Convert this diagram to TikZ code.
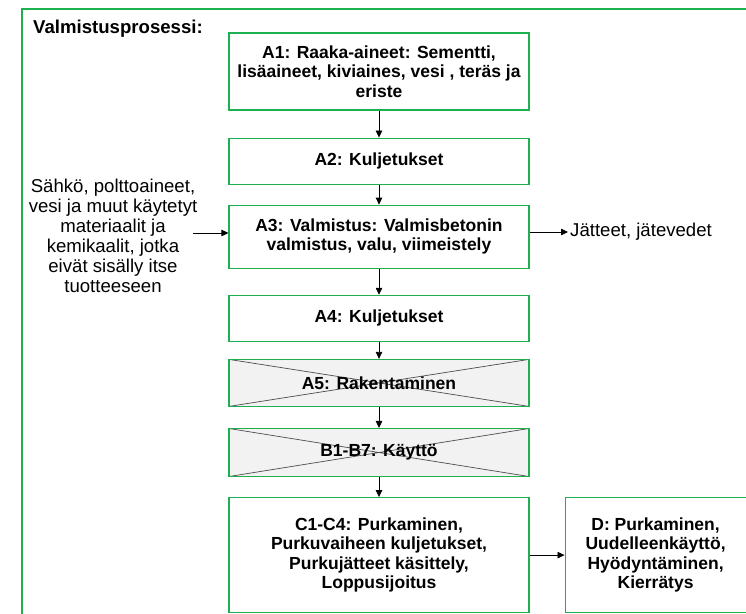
\documentclass[tikz,border=0pt]{standalone}
\usepackage{fontspec}
\setmainfont{Liberation Sans}
\usetikzlibrary{arrows.meta}
\usetikzlibrary{positioning}
\definecolor{framegreen}{HTML}{1CB050}
\tikzset{
  stage/.style={rectangle, draw=framegreen, fill=white, line width=1.1pt, minimum width=300pt, inner sep=0pt, align=center, font=\bfseries\fontsize{17.5}{19.5}\selectfont},
  skipped/.style={stage, fill=gray!10, path picture={
      \draw[black!70, line width=0.7pt] (path picture bounding box.north west) -- (path picture bounding box.south east)
        (path picture bounding box.south west) -- (path picture bounding box.north east);}},
  plain/.style={align=center, inner sep=0pt, font=\fontsize{18.6}{20}\selectfont},
  arrow/.style={draw, -{Triangle[length=7pt, width=6.5pt]}, line width=0.8pt}
  }

\begin{document}
\begin{tikzpicture}[x=1pt, y=1pt]
	\useasboundingbox (0,0) rectangle (746,-613);
	\clip (0,0) rectangle (746,-613);
	% Frame
	\draw [draw=framegreen, line width=1.2pt] (22,-9) rectangle (770,-640);
	\node[anchor=base west, inner sep=0pt, font=\bfseries\fontsize{18.6}{20}\selectfont] (title) at (33,-33) {Valmistusprosessi:};

	% Nodes
	\node[stage, minimum height=77pt] (A1) at (379,-71.5) {A1: Raaka-aineet: Sementti,\\lisäaineet, kiviaines, vesi , teräs ja\\eriste};
	\node[stage, minimum height=46pt, below = 27pt of A1] (A2) {A2: Kuljetukset};
	\node[stage, minimum height=63pt, below = 20pt of A2] (A3) {A3: Valmistus: Valmisbetonin\\valmistus, valu, viimeistely};
	\node[stage, minimum height=46pt, below = 26pt of A3] (A4) {A4: Kuljetukset};
	\node[skipped, minimum height=47pt, below = 17pt of A4] (A5) {A5: Rakentaminen};
	\node[skipped, minimum height=48pt, below = 21pt of A5] (B) {B1-B7: Käyttö};
	\node[stage, minimum height=115pt, below = 20pt of B] (C) {C1-C4: Purkaminen,\\Purkuvaiheen kuljetukset,\\Purkujätteet käsittely,\\Loppusijoitus};
	\node[stage, minimum height=115pt, minimum width=181pt, right = 35pt of C] (D) {D: Purkaminen,\\Uudelleenkäyttö,\\Hyödyntäminen,\\Kierrätys};
	\node[plain] (inputs) at (113,-236) {Sähkö, polttoaineet,\\vesi ja muut käytetyt\\materiaalit ja\\kemikaalit, jotka\\eivät sisälly itse\\tuotteeseen};
	\node[plain, anchor=west] (waste) at (570,-232) {Jätteet, jätevedet};
	\coordinate (in) at (193,-233);

	% Arrows
	\draw [arrow] (A1) -- (A2);
	\draw [arrow] (A2) -- (A3);
	\draw [arrow] (A3) -- (A4);
	\draw [arrow] (A4) -- (A5);
	\draw [arrow] (A5) -- (B);
	\draw [arrow] (B) -- (C);
	\draw [arrow] (C) -- (D);
	\draw [arrow] (in) -- (in -| A3.west);
	\draw [arrow] (A3.east |- waste.west) -- ([xshift=-2pt]waste.west);
\end{tikzpicture}
\end{document}
